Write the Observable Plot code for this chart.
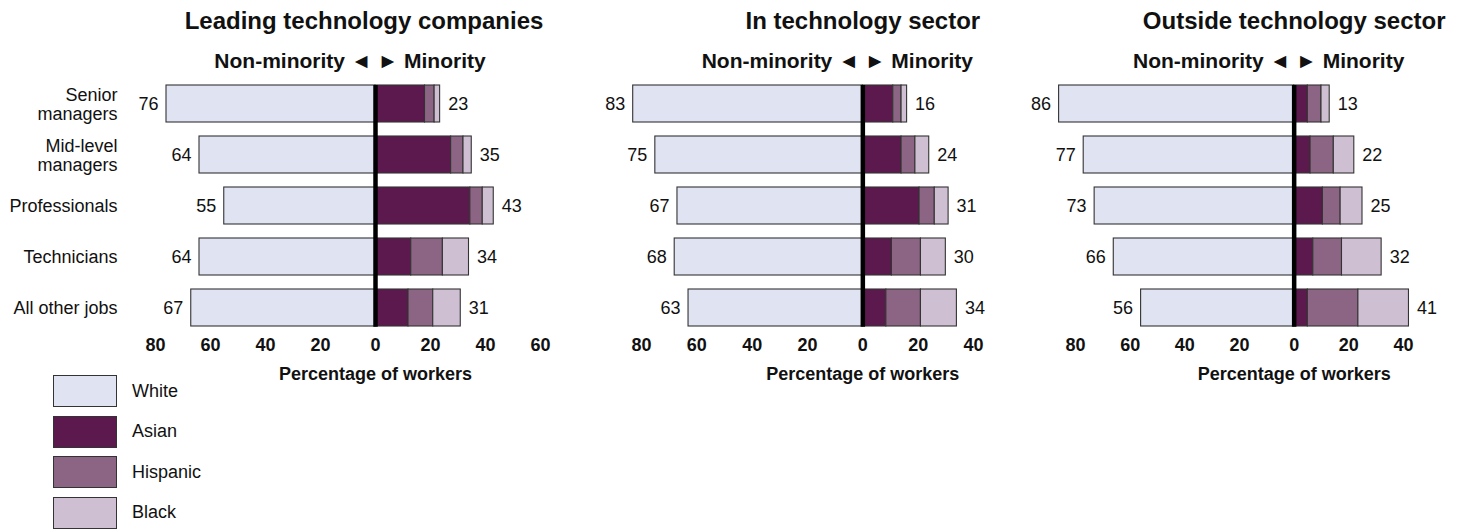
<!DOCTYPE html>
<html>
<head>
<meta charset="utf-8">
<script src="https://cdn.jsdelivr.net/npm/d3@7"></script>
<script src="https://cdn.jsdelivr.net/npm/@observablehq/plot@0.6"></script>
<style>
  body { margin: 0; background: #fff; font-family: "Liberation Sans", Arial, sans-serif; }
  #root { position: relative; width: 1462px; height: 529px; overflow: hidden; background: #fff; }
  .panel { position: absolute; top: 0; }
  #legend { position: absolute; left: 53px; top: 375px; }
  .lrow { display: flex; align-items: center; height: 32px; margin-bottom: 8.5px; }
  .lsw { width: 64px; height: 32px; box-sizing: border-box; border: 1.2px solid #333; }
  .llab { margin-left: 15px; font-size: 18px; color: #111; }
</style>
</head>
<body>
<div id="root"></div>
<script>
// ---- data ----
const jobs = ["Senior managers", "Mid-level managers", "Professionals", "Technicians", "All other jobs"];
const jobLabels = ["Senior\nmanagers", "Mid-level\nmanagers", "Professionals", "Technicians", "All other jobs"];
const races = ["White", "Asian", "Hispanic", "Black"];
const raceColors = ["#dfe3f2", "#5c194e", "#8c6584", "#cfbfd2"];
const panelTitles = ["Leading technology companies", "In technology sector", "Outside technology sector"];
const subtitle = "Non-minority \u25C4 \u25BA Minority";
const axisLabel = "Percentage of workers";

// Leading technology companies
const leadWhite    = [76, 64, 55, 64, 67];
const leadAsian    = [18, 27.5, 34.5, 13, 12];
const leadHispanic = [3.5, 4.5, 4.5, 11.5, 9];
const leadBlack    = [2, 3, 4, 9.5, 10];
const leadMinority = [23, 35, 43, 34, 31];

// In technology sector
const inWhite    = [83, 75, 67, 68, 63];
const inAsian    = [11, 14, 20.5, 10.5, 8.5];
const inHispanic = [3, 5, 5.5, 10.5, 12.5];
const inBlack    = [2, 5, 5, 9, 13];
const inMinority = [16, 24, 31, 30, 34];

// Outside technology sector
const outWhite    = [86, 77, 73, 66, 56];
const outAsian    = [5, 6, 10.5, 7, 5];
const outHispanic = [5, 8.5, 6.5, 10.5, 18.5];
const outBlack    = [3, 7.5, 8, 14.5, 18.5];
const outMinority = [13, 22, 25, 32, 41];

const ticks1 = [-80, -60, -40, -20, 0, 20, 40, 60];
const ticks2 = [-80, -60, -40, -20, 0, 20, 40];

// ---- drawing ----
const FONT = '"Liberation Sans", Arial, sans-serif';

function makePanel(cfg) {
  const rows = [];
  const ends = [];
  jobs.forEach((j, i) => {
    rows.push({job: j, race: "White", v: -cfg.white[i]});
    rows.push({job: j, race: "Asian", v: cfg.asian[i]});
    rows.push({job: j, race: "Hispanic", v: cfg.hispanic[i]});
    rows.push({job: j, race: "Black", v: cfg.black[i]});
    ends.push({job: j, w: cfg.white[i], m: cfg.asian[i] + cfg.hispanic[i] + cfg.black[i], label: cfg.minority[i]});
  });
  const marks = [
    Plot.barX(rows, {y: "job", x: "v", fill: "race", order: races, stroke: "#333", strokeWidth: 1.1}),
    Plot.ruleX([0], {stroke: "#000", strokeWidth: 4.5}),
    Plot.text(ends, {y: "job", x: d => -d.w, text: d => String(d.w), textAnchor: "end", dx: -8, fontSize: 18, fill: "#111"}),
    Plot.text(ends, {y: "job", x: "m", text: d => String(d.label), textAnchor: "start", dx: 8, fontSize: 18, fill: "#111"}),
    Plot.axisX({ticks: cfg.ticks, tickFormat: d => Math.abs(d), tickSize: 0, tickPadding: 11, fontWeight: "bold", fontSize: 18, label: null, fill: "#111"}),
    Plot.text([axisLabel], {x: () => 0, text: d => d, frameAnchor: "bottom", lineAnchor: "top", dy: 40, fontWeight: "bold", fontSize: 18, fill: "#111"}),
    Plot.text([cfg.title], {x: () => 0, text: d => d, frameAnchor: "top", lineAnchor: "middle", dy: -64.4, dx: cfg.titleDx, fontWeight: "bold", fontSize: 24, fill: "#111"}),
    Plot.text([subtitle], {x: () => 0, text: d => d, frameAnchor: "top", lineAnchor: "middle", dy: -24, dx: -25.5, fontWeight: "bold", fontSize: 21, fill: "#111"})
  ];
  if (cfg.showY) {
    marks.push(Plot.text(jobs, {y: d => d, text: (d, i) => jobLabels[i], frameAnchor: "left", textAnchor: "end", dx: -38, lineHeight: 1.08, fontSize: 18, fill: "#111"}));
  }
  const svg = Plot.plot({
    width: cfg.width,
    height: 400,
    marginLeft: cfg.marginLeft,
    marginRight: cfg.marginRight,
    marginTop: 85,
    marginBottom: 73.3,
    style: {fontFamily: FONT, fontSize: "18px", background: "transparent", overflow: "visible"},
    x: {domain: cfg.domain, axis: null},
    y: {domain: jobs, paddingInner: 0.275, paddingOuter: 0, axis: null},
    color: {domain: races, range: raceColors},
    marks
  });
  svg.classList.add("panel");
  svg.style.left = cfg.left + "px";
  return svg;
}

const root = document.getElementById("root");
root.appendChild(makePanel({
  white: leadWhite, asian: leadAsian, hispanic: leadHispanic, black: leadBlack, minority: leadMinority,
  title: panelTitles[0], titleDx: -11.5, domain: [-80, 60], ticks: ticks1,
  left: 0, width: 590, marginLeft: 155, marginRight: 50, showY: true
}));
root.appendChild(makePanel({
  white: inWhite, asian: inAsian, hispanic: inHispanic, black: inBlack, minority: inMinority,
  title: panelTitles[1], titleDx: 0, domain: [-80, 40], ticks: ticks2,
  left: 590, width: 430, marginLeft: 51, marginRight: 47, showY: false
}));
root.appendChild(makePanel({
  white: outWhite, asian: outAsian, hispanic: outHispanic, black: outBlack, minority: outMinority,
  title: panelTitles[2], titleDx: 0, domain: [-80, 40], ticks: ticks2,
  left: 1020, width: 442, marginLeft: 55, marginRight: 59, showY: false
}));

// legend
const legend = document.createElement("div");
legend.id = "legend";
races.forEach((r, i) => {
  const row = document.createElement("div");
  row.className = "lrow";
  const sw = document.createElement("div");
  sw.className = "lsw";
  sw.style.background = raceColors[i];
  const lab = document.createElement("span");
  lab.className = "llab";
  lab.textContent = r;
  row.appendChild(sw);
  row.appendChild(lab);
  legend.appendChild(row);
});
root.appendChild(legend);
</script>
</body>
</html>
